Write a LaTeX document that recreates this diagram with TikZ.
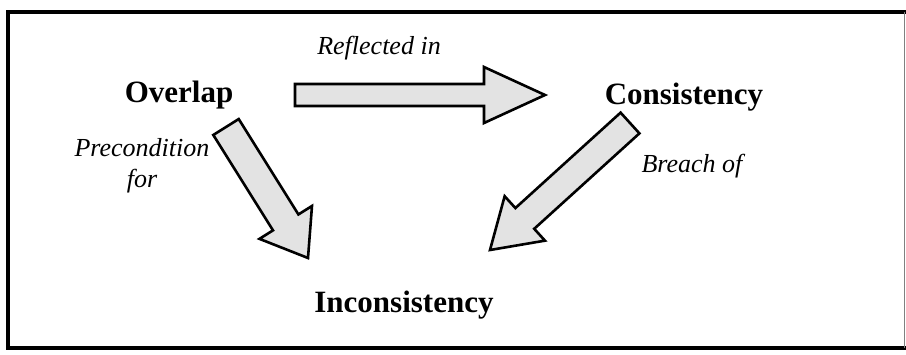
\documentclass[tikz,border=0pt]{standalone}
\usepackage{fontspec}
\setmainfont{Liberation Serif}
\usetikzlibrary{calc}

\tikzset{
  concept/.style={font=\fontsize{31bp}{37bp}\selectfont\bfseries, inner sep=0pt, anchor=base},
  relation/.style={font=\fontsize{26bp}{31bp}\selectfont\itshape, inner sep=0pt, anchor=base, align=center},
  barrow/.style={draw=black, line width=2.6bp, line join=miter, fill=gray!22},
  frameline/.style={line width=4bp, line cap=rect}
}

% block arrow: tail centre, tip, shaft half width, head half width, head length
\newcommand\blockarrow[5]{%
  \coordinate (hb) at ($(#2)!#5!(#1)$);
  \draw[barrow]
    ($(#1)!#3!90:(#2)$) -- ($(hb)!#3!90:(#2)$) -- ($(hb)!#4!90:(#2)$) -- (#2)
    -- ($(hb)!#4!-90:(#2)$) -- ($(hb)!#3!-90:(#2)$) -- ($(#1)!#3!-90:(#2)$) -- cycle;
}

\begin{document}
\begin{tikzpicture}[x=1bp, y=-1bp]
  \useasboundingbox (0,0) rectangle (906,354);

  % surrounding frame
  \coordinate (fa) at (8,12);
  \coordinate (fb) at (904,12);
  \coordinate (fc) at (904,348);
  \coordinate (fd) at (8,348);
  \draw[frameline] (fb) -- (fa) -- (fd) -- (fc);
  \draw[gray, line width=1bp] (fb) -- (fc);

  % concepts
  \node[concept] (overlap) at (179,102) {Overlap};
  \node[concept] (consistency) at (684,104) {Consistency};
  \node[concept] (inconsistency) at (404,312) {Inconsistency};

  % arrow ends
  \coordinate (t1) at (295,95);
  \coordinate (p1) at (545,95);
  \coordinate (t2) at (226,127);
  \coordinate (p2) at (308,258);
  \coordinate (t3) at (630,123);
  \coordinate (p3) at (490,250);

  \blockarrow{t1}{p1}{11bp}{28bp}{61bp}
  \blockarrow{t2}{p2}{15bp}{31bp}{42bp}
  \blockarrow{t3}{p3}{14bp}{30bp}{47bp}

  % relation labels
  \node[relation] (reflected) at (379,54) {Reflected in};
  \node[relation] (precondition) at (142,187) {Precondition\\for};
  \node[relation] (breach) at (692,172) {Breach of};
\end{tikzpicture}
\end{document}
